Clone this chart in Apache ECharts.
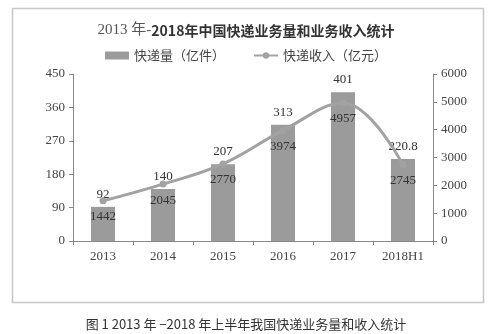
<!DOCTYPE html>
<html><head><meta charset="utf-8">
<script src="https://cdn.jsdelivr.net/npm/echarts@6/dist/echarts.min.js"></script>
<style>html,body{margin:0;padding:0;background:#fff}#c{width:492px;height:334px}</style>
</head><body><div id="c"></div>
<script>
const categories = ['2013','2014','2015','2016','2017','2018H1'];
const volume = [92, 140, 207, 313, 401, 220.8];
const revenue = [1442, 2045, 2770, 3974, 4957, 2745];
const leftTicks = [0, 90, 180, 270, 360, 450];
const rightTicks = [0, 1000, 2000, 3000, 4000, 5000, 6000];

const serif = 'Liberation Serif';
const cjk = 'Noto Sans CJK SC';
const chart = echarts.init(document.getElementById('c'));
chart.setOption({
  backgroundColor: '#fff',
  animation: false,
  title: {
    text: '{a|2013 年-}{b|2018年中国快递业务量和业务收入统计}',
    left: 'center', top: 18,
    textStyle: {
      rich: {
        a: {fontFamily: serif + ',' + cjk, fontSize: 15, color: '#555', fontWeight: 'normal'},
        b: {fontFamily: cjk, fontSize: 14, color: '#333', fontWeight: 'bold'}
      }
    }
  },
  legend: {
    top: 44, left: 'center', itemGap: 28, itemWidth: 24, itemHeight: 8,
    textStyle: {fontFamily: cjk, fontSize: 13, color: '#444'},
    data: [{name: '快递量（亿件）', icon: 'rect'}, {name: '快递收入（亿元）'}]
  },
  grid: {left: 73, right: 59, top: 74, bottom: 93},
  xAxis: {
    type: 'category', data: categories,
    axisLine: {lineStyle: {color: '#888'}},
    axisTick: {show: true, lineStyle: {color: '#888'}, length: 4},
    axisLabel: {fontFamily: serif, fontSize: 13, color: '#444', margin: 9}
  },
  yAxis: [{
    type: 'value', min: leftTicks[0], max: leftTicks[leftTicks.length-1], interval: 90,
    axisLine: {show: true, lineStyle: {color: '#888'}},
    axisTick: {show: true, lineStyle: {color: '#888'}, length: 4},
    splitLine: {show: false},
    axisLabel: {fontFamily: serif, fontSize: 13, color: '#444', margin: 8}
  }, {
    type: 'value', min: rightTicks[0], max: rightTicks[rightTicks.length-1], interval: 1000,
    axisLine: {show: true, lineStyle: {color: '#888'}},
    axisTick: {show: true, lineStyle: {color: '#888'}, length: 4},
    splitLine: {show: false},
    axisLabel: {fontFamily: serif, fontSize: 13, color: '#444', margin: 8, formatter: v => String(v)}
  }],
  series: [{
    name: '快递量（亿件）', type: 'bar', data: volume, barWidth: 24,
    itemStyle: {color: '#9b9b9b'},
    label: {show: true, position: 'top', distance: 6, fontFamily: serif, fontSize: 13, color: '#333'}
  }, {
    name: '快递收入（亿元）', type: 'line', yAxisIndex: 1, data: revenue, smooth: 0.4,
    symbol: 'circle', symbolSize: 7,
    lineStyle: {color: '#a2a2a2', width: 3},
    itemStyle: {color: '#a2a2a2'},
    label: {show: true, position: 'bottom', distance: 6, fontFamily: serif, fontSize: 13, color: '#333'},
    z: 3
  }],
  graphic: [{
    type: 'rect', shape: {x: 12.5, y: 8.5, width: 471, height: 294},
    style: {fill: null, stroke: '#c8c8c8', lineWidth: 1.5}, silent: true, z: -1
  }, {
    type: 'text', left: 'center', top: 318,
    style: {text: '图 1 2013 年 −2018 年上半年我国快递业务量和收入统计', font: '13px "Noto Sans CJK SC"', fill: '#333'}
  }]
});
</script></body></html>
